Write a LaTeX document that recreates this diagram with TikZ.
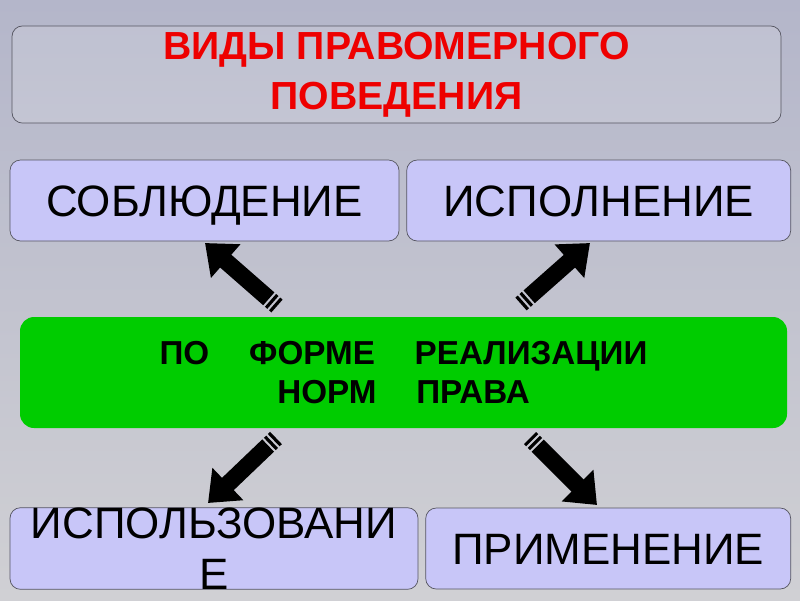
\documentclass[tikz,border=0pt]{standalone}
\usepackage{fontspec}
\setmainfont{Liberation Sans}
\usetikzlibrary{arrows.meta,positioning}

\definecolor{lilac}{HTML}{C8C6F8}
\definecolor{brightgreen}{HTML}{00CC00}
\definecolor{titlered}{HTML}{EE0000}
\definecolor{edgegrey}{HTML}{555560}
\definecolor{backtop}{HTML}{B4B6CA}
\definecolor{backmid}{HTML}{DCDCE0}
\definecolor{backlow}{HTML}{D0D0D4}

\begin{document}
\begin{tikzpicture}[
  >=Triangle,
  headbox/.style={draw=edgegrey, rounded corners=6pt, fill=white, fill opacity=0.15, text opacity=1,
    align=center, text=titlered, minimum width=15.38cm, minimum height=1.86cm,
    font=\fontsize{22.3}{28.6}\selectfont\bfseries},
  kindbox/.style={draw=edgegrey, rounded corners=6pt, fill=lilac, align=center,
    minimum height=1.62cm, inner sep=0pt, font=\fontsize{25}{29}\selectfont},
  oneline/.style={text height=17.9pt, text depth=0pt},
  formbox/.style={rounded corners=8pt, fill=brightgreen, align=center, minimum width=15.34cm,
    minimum height=2.22cm, font=\fontsize{18.9}{22.5}\selectfont\bfseries},
  blockarrow/.style={line width=0.34cm, -{Triangle[length=0.55cm, width=0.86cm]},
    dash pattern=on 1.8pt off 1.3pt on 1.8pt off 1.3pt on 400pt}
]
\useasboundingbox (0,0) rectangle (16,-12);
\shade[top color=backtop, middle color=backmid, bottom color=backlow] (0,0) rectangle (16,-12);

\node[headbox] (title) at (7.93,-1.49) {ВИДЫ ПРАВОМЕРНОГО\\ПОВЕДЕНИЯ};

\node[kindbox, oneline, minimum width=7.78cm] (sobl) at (4.09,-4.01) {СОБЛЮДЕНИЕ};
\node[kindbox, oneline, minimum width=7.68cm, right=0.14cm of sobl] (ispoln) {ИСПОЛНЕНИЕ};

\node[formbox] (form) at (8.07,-7.45)
  {ПО\hspace{1.2em}ФОРМЕ\hspace{1.2em}РЕАЛИЗАЦИИ\\НОРМ\hspace{1.2em}ПРАВА};

\node[kindbox, minimum width=8.16cm] (ispolz) at (4.28,-10.97) {ИСПОЛЬЗОВАНИ\\Е};
\node[kindbox, oneline, minimum width=7.3cm, right=0.14cm of ispolz] (primen) {ПРИМЕНЕНИЕ};

% arrow ends
\coordinate (from1) at (5.54,-6.12);
\coordinate (to1) at (4.10,-4.86);
\coordinate (from2) at (10.42,-6.08);
\coordinate (to2) at (11.80,-4.86);
\coordinate (from3) at (5.52,-8.76);
\coordinate (to3) at (4.16,-10.06);
\coordinate (from4) at (10.60,-8.76);
\coordinate (to4) at (11.94,-10.10);

\draw[blockarrow] (from1) -- (to1);
\draw[blockarrow] (from2) -- (to2);
\draw[blockarrow] (from3) -- (to3);
\draw[blockarrow] (from4) -- (to4);

\end{tikzpicture}
\end{document}
